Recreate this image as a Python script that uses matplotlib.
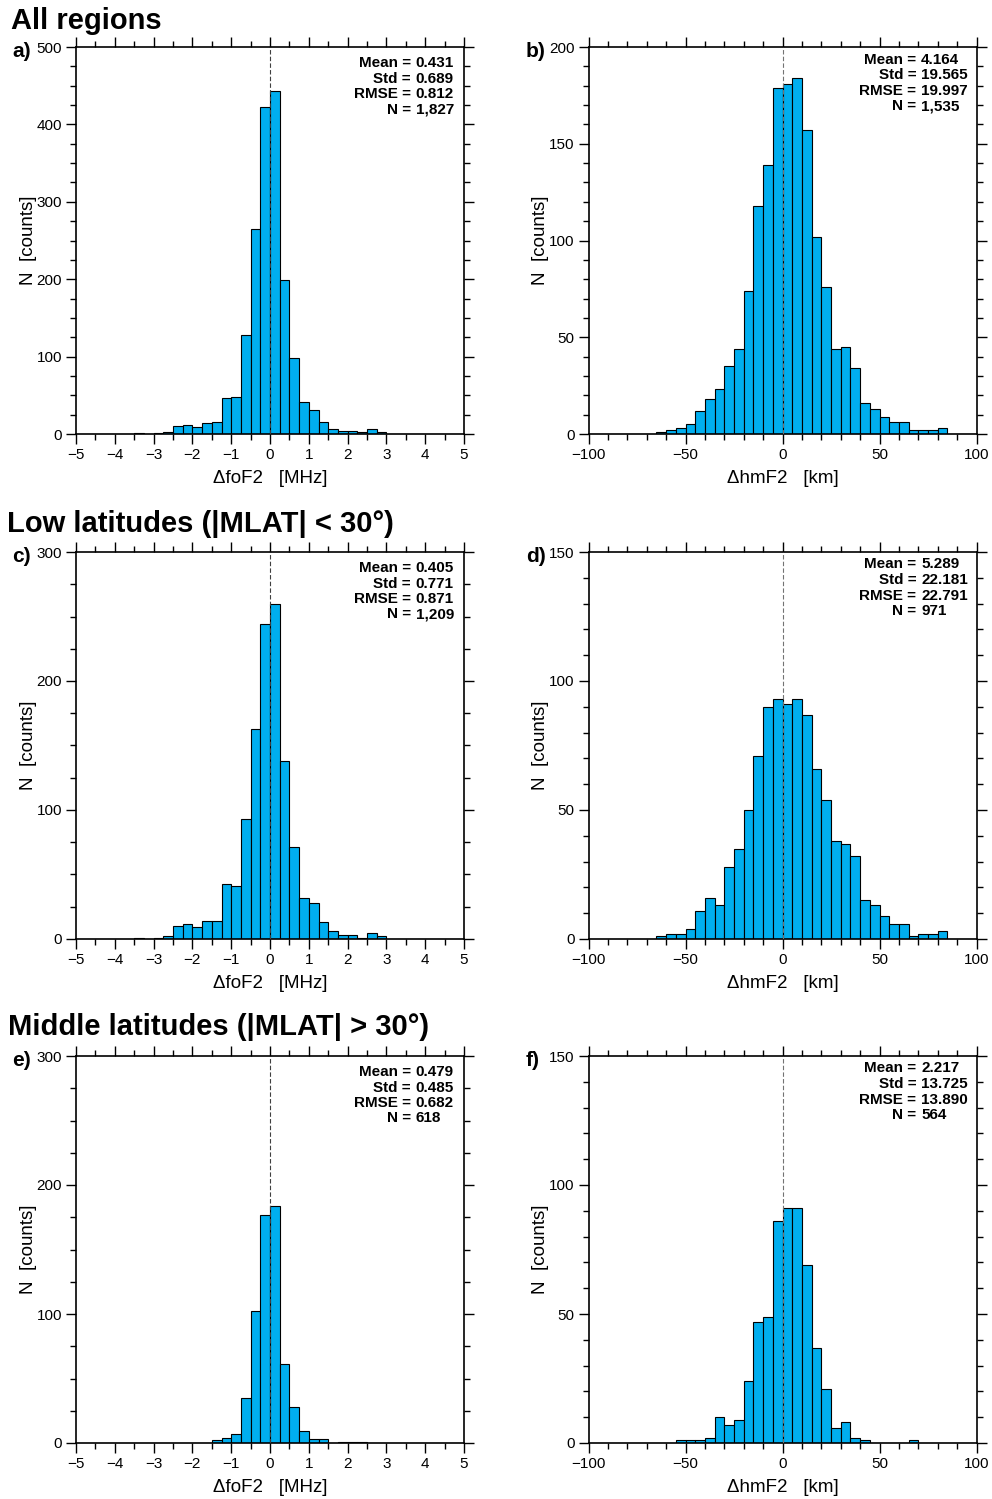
import numpy as np
import matplotlib
matplotlib.use("Agg")
import matplotlib.pyplot as plt
from matplotlib.ticker import MultipleLocator

plt.rcParams["font.family"] = ["Liberation Sans", "DejaVu Sans"]

# histogram counts, 40 bins each
fof2_edges = np.arange(-5, 5.001, 0.25)
hmf2_edges = np.arange(-100, 100.001, 5)

fof2_all = [0, 0, 0, 0, 0, 0, 1, 0, 1, 2, 10, 12, 9, 14, 16, 47, 48, 128, 265, 422,
            443, 199, 98, 41, 31, 16, 6, 4, 4, 2, 6, 2, 0, 0, 0, 0, 0, 0, 0, 0]
hmf2_all = [0, 0, 0, 0, 0, 0, 0, 1, 2, 3, 5, 12, 18, 23, 35, 44, 74, 118, 139, 179,
            181, 184, 157, 102, 76, 44, 45, 34, 16, 13, 9, 6, 6, 2, 2, 2, 3, 0, 0, 0]
fof2_low = [0, 0, 0, 0, 0, 0, 1, 0, 1, 2, 10, 12, 9, 14, 14, 43, 41, 93, 163, 244,
            260, 138, 71, 32, 28, 13, 6, 3, 3, 1, 5, 2, 0, 0, 0, 0, 0, 0, 0, 0]
hmf2_low = [0, 0, 0, 0, 0, 0, 0, 1, 2, 2, 4, 11, 16, 13, 28, 35, 50, 71, 90, 93,
            91, 93, 87, 66, 54, 38, 37, 32, 15, 13, 9, 6, 6, 1, 2, 2, 3, 0, 0, 0]
fof2_mid = [0, 0, 0, 0, 0, 0, 0, 0, 0, 0, 0, 0, 0, 0, 2, 4, 7, 35, 102, 177,
            184, 61, 28, 9, 3, 3, 0, 1, 1, 1, 0, 0, 0, 0, 0, 0, 0, 0, 0, 0]
hmf2_mid = [0, 0, 0, 0, 0, 0, 0, 0, 0, 1, 1, 1, 2, 10, 7, 9, 24, 47, 49, 86,
            91, 91, 69, 37, 21, 6, 8, 2, 1, 0, 0, 0, 0, 1, 0, 0, 0, 0, 0, 0]

# statistics: mean, std, rmse, N
stats_fof2_all = (0.431, 0.689, 0.812, 1827)
stats_hmf2_all = (4.164, 19.565, 19.997, 1535)
stats_fof2_low = (0.405, 0.771, 0.871, 1209)
stats_hmf2_low = (5.289, 22.181, 22.791, 971)
stats_fof2_mid = (0.479, 0.485, 0.682, 618)
stats_hmf2_mid = (2.217, 13.725, 13.890, 564)

row_titles = ["All regions", "Low latitudes (|MLAT| < 30°)", "Middle latitudes (|MLAT| > 30°)"]
panel_tags = ["a)", "b)", "c)", "d)", "e)", "f)"]
fof2_ymax = [500, 300, 300]
hmf2_ymax = [200, 150, 150]

bar_color = "#00aeef"

W, H = 992, 1499
fig = plt.figure(figsize=(W / 100, H / 100), dpi=100)

ax_w, ax_h = 388 / W, 387 / H
lefts = [76 / W, 588.5 / W]
bottoms = [1 - 434 / H, 1 - 939 / H, 1 - 1443 / H]
title_y = [29, 532, 1035]
title_x = [11, 7, 8]

rows = [
    (fof2_all, hmf2_all, stats_fof2_all, stats_hmf2_all),
    (fof2_low, hmf2_low, stats_fof2_low, stats_hmf2_low),
    (fof2_mid, hmf2_mid, stats_fof2_mid, stats_hmf2_mid),
]


def style_axes(ax):
    for sp in ax.spines.values():
        sp.set_linewidth(1.2)
    ax.tick_params(which="both", direction="out", top=True, right=True,
                   labeltop=False, labelright=False, width=1.0,
                   labelsize=11, pad=3)
    ax.tick_params(which="major", length=7)
    ax.tick_params(which="minor", length=4)


def stats_block(ax, stats, x_eq, top_px):
    mean, std, rmse, n = stats
    labels = ["Mean =", "Std =", "RMSE =", "N ="]
    values = [f"{mean:.3f}", f"{std:.3f}", f"{rmse:.3f}", f"{n:,}"]
    for i, (lab, val) in enumerate(zip(labels, values)):
        y = 1 - (top_px + 15.5 * i) / 387
        ax.text(x_eq, y, lab, transform=ax.transAxes, ha="right", va="baseline",
                fontsize=11, fontweight="bold")
        ax.annotate(val, xy=(x_eq, y), xycoords="axes fraction", xytext=(3.5, 0),
                    textcoords="offset points", ha="left", va="baseline",
                    fontsize=11, fontweight="bold")


for r, (f_counts, h_counts, f_stats, h_stats) in enumerate(rows):
    fig.text(title_x[r] / W, 1 - title_y[r] / H, row_titles[r], fontsize=21,
             fontweight="bold", ha="left", va="baseline")

    # foF2 panel
    ax = fig.add_axes([lefts[0], bottoms[r], ax_w, ax_h])
    ax.bar(fof2_edges[:-1], f_counts, width=0.25, align="edge", color=bar_color,
           edgecolor="black", linewidth=0.8, zorder=2)
    ax.axvline(0, color="0.25", linewidth=0.8, linestyle=(0, (4, 2)), zorder=3)
    ax.set_xlim(-5, 5)
    ax.set_ylim(0, fof2_ymax[r])
    ax.xaxis.set_major_locator(MultipleLocator(1))
    ax.xaxis.set_minor_locator(MultipleLocator(0.5))
    ax.yaxis.set_major_locator(MultipleLocator(100))
    ax.yaxis.set_minor_locator(MultipleLocator(25))
    style_axes(ax)
    ax.set_xlabel("ΔfoF2   [MHz]", fontsize=13.5, labelpad=6)
    ax.set_ylabel("N  [counts]", fontsize=13.5, labelpad=0)
    stats_block(ax, f_stats, 0.863, 20)
    fig.text(12 / W, 1 - (57 + 504.5 * r) / H, panel_tags[2 * r], fontsize=15,
             fontweight="bold", ha="left", va="baseline")

    # hmF2 panel
    ax = fig.add_axes([lefts[1], bottoms[r], ax_w, ax_h])
    ax.bar(hmf2_edges[:-1], h_counts, width=5, align="edge", color=bar_color,
           edgecolor="black", linewidth=0.8, zorder=2)
    ax.axvline(0, color="0.45", linewidth=0.8, linestyle=(0, (4, 2)), zorder=3)
    ax.set_xlim(-100, 100)
    ax.set_ylim(0, hmf2_ymax[r])
    ax.xaxis.set_major_locator(MultipleLocator(50))
    ax.xaxis.set_minor_locator(MultipleLocator(10))
    ax.yaxis.set_major_locator(MultipleLocator(50))
    ax.yaxis.set_minor_locator(MultipleLocator(10))
    style_axes(ax)
    ax.set_xlabel("ΔhmF2   [km]", fontsize=13.5, labelpad=6)
    ax.set_ylabel("N  [counts]", fontsize=13.5, labelpad=0)
    stats_block(ax, h_stats, 0.845, 16.5)
    fig.text(526 / W, 1 - (57 + 504.5 * r) / H, panel_tags[2 * r + 1], fontsize=15,
             fontweight="bold", ha="left", va="baseline")

fig.savefig("out.png", dpi=100)
